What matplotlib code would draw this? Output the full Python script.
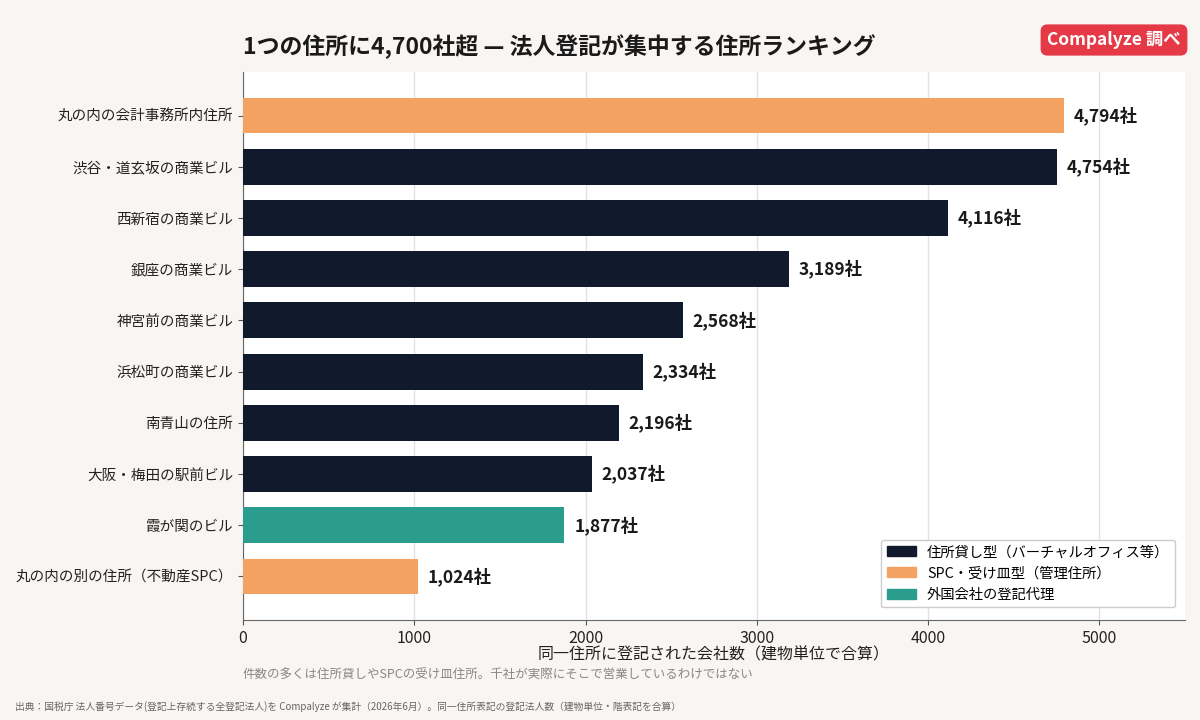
import matplotlib.pyplot as plt
from matplotlib.patches import Patch

plt.rcParams['font.family'] = ['Noto Sans CJK JP', 'DejaVu Sans']

names = ["丸の内の会計事務所内住所", "渋谷・道玄坂の商業ビル", "西新宿の商業ビル", "銀座の商業ビル",
         "神宮前の商業ビル", "浜松町の商業ビル", "南青山の住所", "大阪・梅田の駅前ビル",
         "霞が関のビル", "丸の内の別の住所（不動産SPC）"]
counts = [4794, 4754, 4116, 3189, 2568, 2334, 2196, 2037, 1877, 1024]
kinds = ["spc", "virtual", "virtual", "virtual", "virtual", "virtual", "virtual", "virtual",
         "foreign", "spc"]

colors = {"virtual": "#111a2c", "spc": "#f4a261", "foreign": "#2a9d8f"}
legend_labels = {"virtual": "住所貸し型（バーチャルオフィス等）",
                 "spc": "SPC・受け皿型（管理住所）",
                 "foreign": "外国会社の登記代理"}

bg = "#f9f5f2"
fig = plt.figure(figsize=(12, 7.2), dpi=100, facecolor=bg)
ax = fig.add_axes([243 / 1200, 1 - 620 / 720, (1185 - 243) / 1200, (620 - 72) / 720])
ax.set_facecolor("white")

ypos = list(range(len(names)))
ax.barh(ypos, counts, height=0.7, color=[colors[k] for k in kinds], zorder=3)
for y, v in zip(ypos, counts):
    ax.annotate(f"{v:,}社", (v, y), xytext=(7, 0), textcoords="offset points",
                va="center", ha="left", fontsize=12.5, fontweight="bold", color="#1a1a1a")

ax.set_yticks(ypos)
ax.set_yticklabels(names, fontsize=10.5, color="#222222")
ax.set_ylim(9.85, -0.85)
ax.set_xlim(0, 5500)
ax.set_xticks([0, 1000, 2000, 3000, 4000, 5000])
ax.tick_params(axis="x", labelsize=11.5, colors="#222222")
ax.tick_params(axis="both", color="#555555")
ax.grid(axis="x", color="#e2e2e6", linewidth=1, zorder=0)
for s in ["top", "right"]:
    ax.spines[s].set_visible(False)
for s in ["left", "bottom"]:
    ax.spines[s].set_color("#666666")

ax.set_xlabel("同一住所に登記された会社数（建物単位で合算）", fontsize=11.5, labelpad=0, color="#222222")

handles = [Patch(color=colors[k], label=legend_labels[k]) for k in ["virtual", "spc", "foreign"]]
ax.legend(handles=handles, loc="lower right", fontsize=10.3, frameon=True, framealpha=1,
          edgecolor="#cccccc", bbox_to_anchor=(0.997, 0.01))

fig.text(243 / 1200, 1 - 47 / 720, "1つの住所に4,700社超 — 法人登記が集中する住所ランキング",
         fontsize=16.5, fontweight="bold", color="#1a1a1a", va="center", ha="left")
fig.text(1114 / 1200, 1 - 40 / 720, "Compalyze 調べ", fontsize=12.5, fontweight="bold",
         color="white", va="center", ha="center",
         bbox=dict(boxstyle="round,pad=0.38,rounding_size=0.4", facecolor="#e63946", edgecolor="none"))
fig.text(243 / 1200, 1 - 675 / 720, "件数の多くは住所貸しやSPCの受け皿住所。千社が実際にそこで営業しているわけではない",
         fontsize=9, color="#888888", va="center", ha="left")
fig.text(15 / 1200, 1 - 707 / 720,
         "出典：国税庁 法人番号データ(登記上存続する全登記法人)を Compalyze が集計（2026年6月）。同一住所表記の登記法人数（建物単位・階表記を合算）",
         fontsize=7, color="#666666", va="center", ha="left")

fig.savefig("out.png", dpi=100, facecolor=bg)
